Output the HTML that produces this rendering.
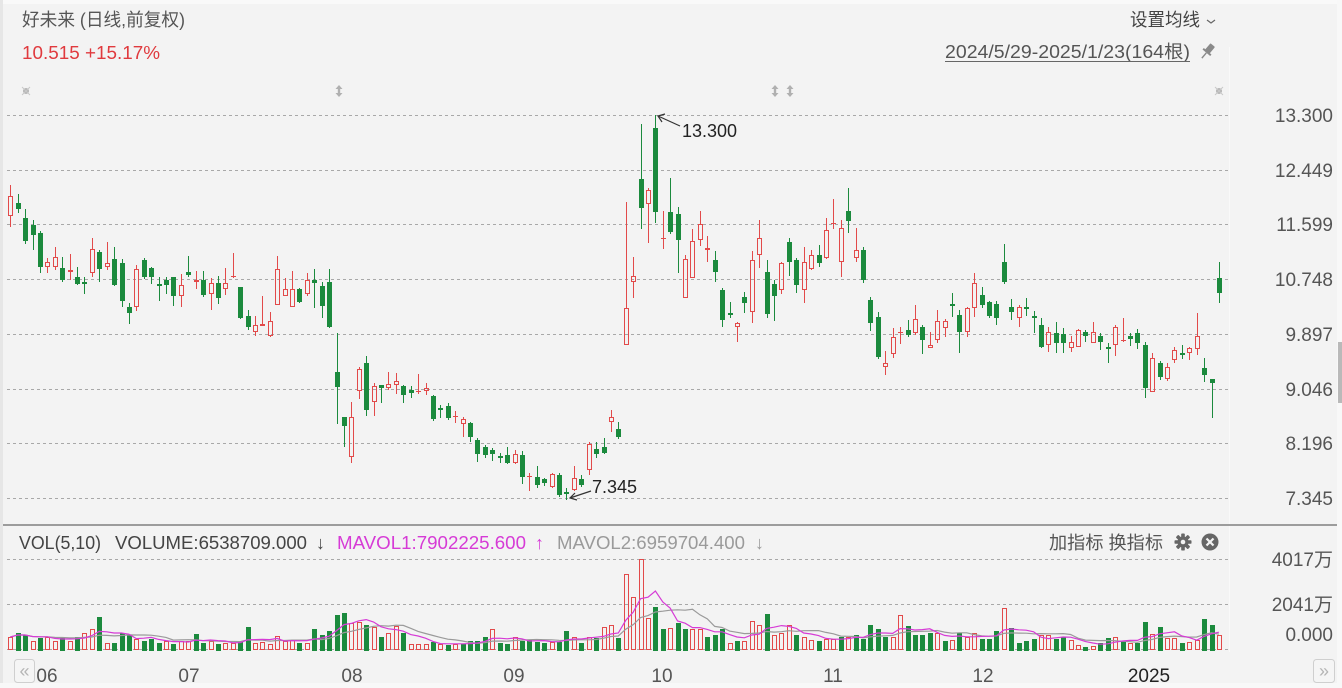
<!DOCTYPE html>
<html><head><meta charset="utf-8">
<style>
html,body{margin:0;padding:0;width:1342px;height:688px;overflow:hidden;background:#f3f3f3;}
svg{display:block;}
text{font-family:"Liberation Sans","Noto Sans CJK SC","WenQuanYi Zen Hei",sans-serif;}
</style></head>
<body>
<svg id="s" width="1342" height="688" viewBox="0 0 1342 688" xmlns="http://www.w3.org/2000/svg">
<rect x="0" y="0" width="1342" height="688" fill="#f3f3f3"/>
<rect x="0" y="0" width="1342" height="4" fill="#f9f9f9"/>
<rect x="0" y="0" width="3" height="688" fill="#e6e6e6"/>
<rect x="0" y="683" width="1342" height="5" fill="#f8f8f8"/>
<rect x="1337" y="0" width="5" height="688" fill="#f8f8f8"/>
<rect x="1338" y="342" width="4" height="61" fill="#b9b9b9"/>
<line x1="1229.5" y1="47" x2="1229.5" y2="652" stroke="#f9f9f9" stroke-width="1"/>

<!-- header -->
<text x="22" y="26" font-size="18" fill="#555" textLength="163" lengthAdjust="spacingAndGlyphs">好未来 (日线,前复权)</text>
<text x="22" y="59" font-size="18" fill="#e03a3e" textLength="138" lengthAdjust="spacingAndGlyphs">10.515 +15.17%</text>
<text x="1130" y="26" font-size="18" fill="#444" textLength="70" lengthAdjust="spacingAndGlyphs">设置均线</text>
<polyline points="1207,20 1211,23 1215,20" fill="none" stroke="#666" stroke-width="1.2"/>
<text x="945" y="58" font-size="18" fill="#555" textLength="245" lengthAdjust="spacingAndGlyphs">2024/5/29-2025/1/23(164根)</text>
<line x1="945" y1="61.5" x2="1190" y2="61.5" stroke="#666" stroke-width="1"/>
<g transform="translate(1207,52) rotate(40)" fill="#8a8a8a">
 <rect x="-3" y="-9" width="6" height="9" rx="1"/>
 <rect x="-5" y="-1" width="10" height="2"/>
 <rect x="-0.7" y="1" width="1.4" height="7"/>
</g>

<!-- small icons row -->
<g fill="#b5b5b5">
 <circle cx="26" cy="91" r="3"/>
 <circle cx="1219" cy="91" r="3"/>
</g>
<g stroke="#c8c8c8" stroke-width="1"><line x1="22" y1="87" x2="30" y2="95"/><line x1="30" y1="87" x2="22" y2="95"/><line x1="1215" y1="87" x2="1223" y2="95"/><line x1="1223" y1="87" x2="1215" y2="95"/></g>
<g fill="#b0b0b0">
 <path d="M339,85 l-3.5,4 h2.3 v4 h-2.3 l3.5,4 l3.5,-4 h-2.3 v-4 h2.3 z"/>
 <path d="M775,85 l-3.5,4 h2.3 v4 h-2.3 l3.5,4 l3.5,-4 h-2.3 v-4 h2.3 z"/>
 <path d="M790,85 l-3.5,4 h2.3 v4 h-2.3 l3.5,4 l3.5,-4 h-2.3 v-4 h2.3 z"/>
</g>

<!-- price grid -->
<g stroke="#a8a8a8" stroke-width="1" stroke-dasharray="3 3">
 <line x1="7" y1="115.5" x2="1229" y2="115.5"/>
 <line x1="7" y1="170.5" x2="1229" y2="170.5"/>
 <line x1="7" y1="224.5" x2="1229" y2="224.5"/>
 <line x1="7" y1="279.5" x2="1229" y2="279.5"/>
 <line x1="7" y1="334.5" x2="1229" y2="334.5"/>
 <line x1="7" y1="389.5" x2="1229" y2="389.5"/>
 <line x1="7" y1="443.5" x2="1229" y2="443.5"/>
 <line x1="7" y1="498.5" x2="1229" y2="498.5"/>
</g>
<g font-size="19" fill="#555" text-anchor="end">
 <text x="1333" y="122">13.300</text>
 <text x="1333" y="177">12.449</text>
 <text x="1333" y="231">11.599</text>
 <text x="1333" y="286">10.748</text>
 <text x="1333" y="341">9.897</text>
 <text x="1333" y="396">9.046</text>
 <text x="1333" y="450">8.196</text>
 <text x="1333" y="505">7.345</text>
</g>

<g id="cd"></g>

<!-- annotations -->
<g stroke="#333" stroke-width="1.2" fill="none">
 <line x1="680" y1="126" x2="658" y2="116"/>
 <polyline points="665,114 658,116 662,122"/>
 <line x1="591" y1="491" x2="570" y2="498"/>
 <polyline points="575,493 570,498 577,500"/>
</g>
<text x="682" y="137" font-size="18" fill="#222">13.300</text>
<text x="592" y="493" font-size="18" fill="#222">7.345</text>

<!-- separator -->
<rect x="3" y="524" width="1334" height="2" fill="#9c9c9c"/>

<!-- vol header -->
<g font-size="18">
 <text x="19" y="549" fill="#444" textLength="82" lengthAdjust="spacingAndGlyphs">VOL(5,10)</text>
 <text x="115" y="549" fill="#444" textLength="192" lengthAdjust="spacingAndGlyphs">VOLUME:6538709.000</text>
 <text x="316" y="549" fill="#444">↓</text>
 <text x="337" y="549" fill="#d63bd6" textLength="189" lengthAdjust="spacingAndGlyphs">MAVOL1:7902225.600</text>
 <text x="535" y="549" fill="#d63bd6">↑</text>
 <text x="557" y="549" fill="#9a9a9a" textLength="188" lengthAdjust="spacingAndGlyphs">MAVOL2:6959704.400</text>
 <text x="755" y="549" fill="#9a9a9a">↓</text>
 <text x="1049" y="549" fill="#555" textLength="114" lengthAdjust="spacingAndGlyphs">加指标 换指标</text>
</g>
<!-- gear -->
<g transform="translate(1183,542)" fill="#666">
 <circle r="5.5"/>
 <g>
  <rect x="-1.8" y="-8.5" width="3.6" height="17" rx="0.8"/>
  <rect x="-1.8" y="-8.5" width="3.6" height="17" rx="0.8" transform="rotate(45)"/>
  <rect x="-1.8" y="-8.5" width="3.6" height="17" rx="0.8" transform="rotate(90)"/>
  <rect x="-1.8" y="-8.5" width="3.6" height="17" rx="0.8" transform="rotate(135)"/>
 </g>
 <circle r="2.3" fill="#f3f3f3"/>
</g>
<g transform="translate(1210,542)">
 <circle r="8.5" fill="#666"/>
 <line x1="-3.5" y1="-3.5" x2="3.5" y2="3.5" stroke="#f3f3f3" stroke-width="2.2"/>
 <line x1="3.5" y1="-3.5" x2="-3.5" y2="3.5" stroke="#f3f3f3" stroke-width="2.2"/>
</g>

<!-- vol grid -->
<g stroke="#a8a8a8" stroke-width="1" stroke-dasharray="3 3">
 <line x1="7" y1="559.5" x2="1229" y2="559.5"/>
 <line x1="7" y1="604.5" x2="1229" y2="604.5"/>
 <line x1="7" y1="649.5" x2="1229" y2="649.5"/>
</g>
<g font-size="19" fill="#555" text-anchor="end">
 <text x="1333" y="566">4017万</text>
 <text x="1333" y="611">2041万</text>
 <text x="1333" y="641">0.000</text>
</g>

<g id="vb"></g>
<polyline id="m10" fill="none" stroke="#9a9a9a" stroke-width="1.2"/>
<polyline id="m5" fill="none" stroke="#d63bd6" stroke-width="1.2"/>

<!-- x axis -->
<g font-size="19" fill="#555" text-anchor="middle">
 <text x="47" y="682">06</text>
 <text x="189" y="682">07</text>
 <text x="352" y="682">08</text>
 <text x="514" y="682">09</text>
 <text x="662" y="682">10</text>
 <text x="833" y="682">11</text>
 <text x="983" y="682">12</text>
 <text x="1149" y="682" fill="#222">2025</text>
</g>
<rect x="14.5" y="659.5" width="20" height="23" rx="3" fill="#f5f5f5" stroke="#cfcfcf"/>
<text x="24.5" y="677" font-size="18" fill="#b5b5b5" text-anchor="middle">«</text>
<rect x="1313.5" y="659.5" width="21" height="23" rx="3" fill="#f5f5f5" stroke="#cfcfcf"/>
<text x="1324" y="677" font-size="18" fill="#b5b5b5" text-anchor="middle">»</text>
</svg>
<script>
var P=[
[1,185,196,216,227],[0,194,203,209,212],[0,209,218,241,243],[0,220,225,235,249],[0,231,233,267,272],
[1,258,262,267,273],[1,247,257,267,270],[0,257,268,280,281],[1,254,270,272,280],[0,267,277,284,284],
[0,277,282,283,293],[1,238,249,273,277],[0,250,252,269,281],[1,242,263,267,270],[0,247,259,285,285],
[0,259,263,301,306],[0,303,307,313,323],[1,265,269,307,311],[0,258,260,277,278],[0,267,268,277,283],
[0,277,284,285,300],[0,277,280,285,293],[0,277,277,296,305],[1,274,285,296,307],[0,256,272,275,276],
[1,271,280,282,289],[0,271,280,295,296],[1,278,283,294,310],[0,276,283,298,303],[1,268,283,289,295],
[1,253,276,277,277],[0,287,287,318,318],[0,310,316,327,329],[1,316,325,332,336],[1,296,324,326,326],
[1,312,321,336,337],[1,256,269,305,305],[1,278,289,296,296],[1,271,289,307,307],[0,288,289,302,302],
[1,273,280,294,296],[0,269,280,283,307],[0,282,286,306,317],[0,269,282,327,327],[0,333,372,387,423],
[0,417,417,426,446],[1,402,417,457,463],[1,367,369,391,399],[0,356,363,410,415],[1,383,386,402,416],
[0,385,385,388,402],[1,372,384,388,390],[1,373,381,385,394],[0,385,386,395,402],[0,386,390,393,397],
[1,374,391,392,393],[1,383,388,391,395],[0,395,396,419,420],[0,405,408,409,417],[0,403,406,418,419],
[1,411,416,417,422],[1,417,419,424,437],[0,422,423,437,441],[0,438,440,454,461],[0,445,447,455,457],
[0,448,450,454,460],[0,453,456,457,462],[0,447,455,463,463],[1,450,454,463,464],[0,451,455,477,483],
[1,473,476,477,490],[0,466,477,485,487],[0,478,479,483,485],[1,473,474,487,488],[0,473,475,495,496],
[0,488,492,494,499],[1,466,478,490,491],[0,475,479,485,486],[1,442,444,470,475],[0,442,449,454,457],
[0,438,447,453,453],[1,410,417,422,432],[0,422,429,437,438],[1,202,308,345,345],[1,257,276,282,298],
[0,124,179,208,228],[1,188,190,204,243],[0,115,128,212,222],[1,211,238,239,248],[0,178,212,232,233],
[0,207,214,240,272],[1,255,259,298,298],[1,229,241,278,278],[1,211,224,240,246],[1,236,248,250,262],
[0,251,260,272,281],[0,288,290,320,326],[0,302,313,315,317],[1,322,323,327,342],[0,292,297,303,312],
[1,251,260,312,323],[1,220,238,255,268],[0,260,272,314,317],[0,280,284,296,320],[1,262,263,290,294],
[0,238,242,262,275],[0,258,260,285,292],[1,247,262,290,303],[1,250,255,269,270],[0,245,255,263,266],
[1,218,230,258,259],[1,199,223,224,228],[1,220,228,262,277],[0,188,211,221,232],[1,228,250,258,262],
[0,247,250,280,282],[0,297,300,323,330],[0,312,317,357,358],[1,351,363,367,375],[1,328,337,354,358],
[1,327,332,333,343],[0,320,330,335,336],[1,305,319,333,335],[0,325,327,340,353],[1,332,345,348,348],
[1,310,321,340,343],[1,319,321,328,337],[0,293,304,306,316],[0,310,315,332,352],[1,307,308,332,337],
[1,273,283,308,317],[0,287,295,305,307],[0,301,302,316,317],[0,301,304,318,324],[0,244,262,282,283],
[0,299,307,312,319],[1,305,307,318,327],[0,298,307,308,315],[0,311,316,318,332],[0,318,325,347,347],
[1,327,332,345,352],[0,322,333,343,352],[0,328,334,343,352],[1,336,342,348,352],[1,329,330,347,347],
[0,330,332,336,341],[1,322,332,343,343],[0,333,336,342,349],[0,343,347,348,362],[1,325,327,345,356],
[1,318,340,341,341],[0,333,336,339,345],[0,329,333,343,348],[0,342,345,388,397],[1,353,358,392,392],
[0,361,363,377,379],[1,363,367,379,381],[1,347,350,360,363],[0,345,353,354,358],[1,347,348,353,360],
[1,313,336,349,355],[0,358,368,375,381],[0,379,379,383,417],[0,262,278,293,302]];
var V=[
[1,637],[0,633],[0,635],[1,641],[0,638],[1,637],[1,641],[0,638],[1,641],[0,637],
[1,633],[1,629],[0,617],[1,643],[0,643],[0,633],[0,635],[1,639],[0,641],[0,639],
[0,643],[1,641],[0,644],[1,641],[1,641],[0,634],[0,643],[1,641],[0,644],[1,643],
[1,643],[0,642],[0,627],[1,643],[1,642],[1,644],[1,636],[1,641],[1,640],[0,643],
[1,643],[0,629],[0,635],[0,631],[0,615],[0,613],[1,623],[1,622],[0,625],[1,627],
[0,637],[1,633],[1,626],[0,633],[1,644],[1,644],[1,644],[0,642],[1,644],[0,645],
[1,644],[0,644],[0,641],[0,641],[0,637],[1,629],[0,643],[0,644],[1,637],[0,641],
[0,640],[0,642],[0,643],[1,642],[0,642],[0,631],[1,637],[0,643],[1,637],[0,638],
[1,627],[1,625],[0,638],[1,574],[1,597],[1,559],[1,618],[0,607],[0,629],[1,628],
[0,623],[0,629],[1,629],[1,629],[0,637],[0,635],[0,629],[1,643],[0,641],[1,641],
[1,621],[1,625],[0,614],[1,635],[1,633],[1,625],[0,635],[1,637],[1,640],[0,641],
[1,639],[1,639],[0,637],[1,637],[0,635],[0,639],[0,625],[0,629],[0,637],[1,637],
[1,615],[0,626],[0,635],[0,635],[0,633],[1,633],[0,641],[1,640],[0,633],[1,637],
[1,633],[0,639],[0,639],[0,631],[1,608],[0,628],[0,643],[0,641],[0,639],[1,635],
[1,635],[0,639],[0,637],[1,640],[1,645],[0,647],[1,646],[0,643],[0,638],[1,637],
[0,641],[1,643],[0,643],[0,622],[1,634],[0,627],[1,638],[1,638],[0,643],[1,642],
[1,640],[0,619],[0,625],[1,635]];
var RED='#e24a4a',GRN='#1b8a3d',BASE=650;
function cx(i){return Math.round(10.3+7.415*i);}
var s='';
P.forEach(function(d,i){
  var c=cx(i),r=d[0],h=d[1],t=d[2],b=d[3],l=d[4],x=c+0.5;
  if(r){
    if(b-t<=1){
      s+='<line x1="'+x+'" x2="'+x+'" y1="'+h+'" y2="'+(l+1)+'" stroke="'+RED+'"/>';
      s+='<rect x="'+(c-2)+'" y="'+t+'" width="5" height="1" fill="'+RED+'"/>';
    }else{
      if(t>h)s+='<line x1="'+x+'" x2="'+x+'" y1="'+h+'" y2="'+t+'" stroke="'+RED+'"/>';
      if(l>b)s+='<line x1="'+x+'" x2="'+x+'" y1="'+b+'" y2="'+l+'" stroke="'+RED+'"/>';
      s+='<rect x="'+(c-1.5)+'" y="'+(t+0.5)+'" width="4" height="'+(b-t-1)+'" fill="none" stroke="'+RED+'"/>';
    }
  }else{
    s+='<line x1="'+x+'" x2="'+x+'" y1="'+h+'" y2="'+(l+1)+'" stroke="'+GRN+'"/>';
    s+='<rect x="'+(c-2)+'" y="'+t+'" width="5" height="'+Math.max(b-t,2)+'" fill="'+GRN+'"/>';
  }
});
document.getElementById('cd').innerHTML=s;
var v='',vals=[];
V.forEach(function(d,i){
  var c=cx(i),t=d[1];vals.push(BASE-t);
  if(d[0]){
    v+='<rect x="'+(c-1.5)+'" y="'+(t+0.5)+'" width="4" height="'+Math.max(BASE-t-1,1)+'" fill="none" stroke="'+RED+'"/>';
  }else{
    v+='<rect x="'+(c-2)+'" y="'+t+'" width="5" height="'+(BASE-t+1)+'" fill="'+GRN+'"/>';
  }
});
document.getElementById('vb').innerHTML=v;
function ma(n){
  var pts=[];
  for(var i=0;i<vals.length;i++){
    var a=0,k=0;for(var j=Math.max(0,i-n+1);j<=i;j++){a+=vals[j];k++;}
    pts.push((10.3+7.415*i).toFixed(1)+','+(BASE-a/k).toFixed(1));
  }
  return pts.join(' ');
}
document.getElementById('m5').setAttribute('points',ma(5));
document.getElementById('m10').setAttribute('points',ma(10));
</script>
</body></html>
